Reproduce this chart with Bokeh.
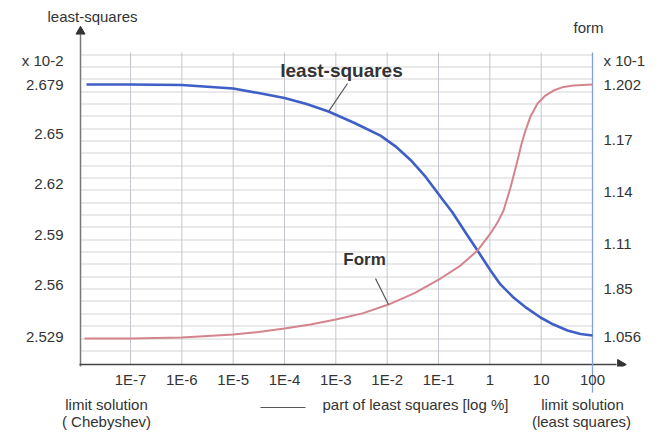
import math
from bokeh.plotting import figure
from bokeh.models import (Range1d, LinearAxis, LogAxis, FixedTicker, Label)
from bokeh.embed import file_html
from bokeh.resources import INLINE

# ---------------- data ----------------
x_ticks = [1e-7, 1e-6, 1e-5, 1e-4, 1e-3, 1e-2, 1e-1, 1.0, 10.0, 100.0]
x_tick_labels = ["1E-7", "1E-6", "1E-5", "1E-4", "1E-3", "1E-2", "1E-1", "1", "10", "100"]

left_ticks = [2.529, 2.56, 2.59, 2.62, 2.65, 2.679]
left_tick_labels = ["2.529", "2.56", "2.59", "2.62", "2.65", "2.679"]

right_ticks = [1.056, 1.084, 1.11, 1.14, 1.17, 1.202]
right_tick_labels = ["1.056", "1.85", "1.11", "1.14", "1.17", "1.202"]

# least-squares curve (left axis, x 10-2)
ls_x = [1.39e-8, 1e-7, 1e-6, 1e-5, 3.12e-5, 1e-4, 2.69e-4, 7.2e-4, 2.31e-3,
        7.41e-3, 0.01452, 0.0285, 0.0558, 0.1253, 0.1875, 0.336, 0.575, 1.03,
        1.61, 2.89, 5.18, 9.7, 17.4, 32.6, 58.3, 100]
ls_y = [2.679, 2.679, 2.6787, 2.6766, 2.6739, 2.6710, 2.6674, 2.6629, 2.6561,
        2.6486, 2.6422, 2.6341, 2.6241, 2.6098, 2.6028, 2.5909, 2.5802, 2.5683,
        2.5600, 2.5522, 2.5460, 2.5403, 2.5361, 2.5326, 2.5305, 2.5296]

# form curve (right axis, x 10-1)
form_x = [1.27e-8, 1e-7, 1e-6, 1e-5, 3.12e-5, 1e-4, 3.21e-4, 1e-3, 3.31e-3,
          0.0106, 0.0341, 0.1094, 0.2685, 0.575, 1.03, 1.41, 1.85, 2.53, 3.46,
          4.14, 4.95, 6.2, 8.49, 12.1, 17.4, 27.2, 42.7, 100]
form_y = [1.0548, 1.0548, 1.0554, 1.0572, 1.0586, 1.0606, 1.0630, 1.0658, 1.0694,
          1.0745, 1.0811, 1.0896, 1.0971, 1.1058, 1.1157, 1.1220, 1.1290, 1.1423,
          1.1580, 1.1675, 1.1753, 1.1835, 1.1910, 1.1956, 1.1985, 1.2006, 1.2014,
          1.2020]

# ---------------- layout helpers (page pixels -> data) ----------------
W, H = 661, 432
FL, FR, FT, FB = 70, 632, 20, 366          # frame edges (page px)


def dx(px):   # 1E-7 at 130 px, 100 at 592 px
    return 10 ** (-7 + (px - 130) * 9.0 / 462.0)


def dy(py):   # left axis: 2.679 at 84 px, 2.529 at 336 px
    return 2.529 + (336 - py) * 0.15 / 252.0


def ry(py):   # right axis: 1.202 at 84 px, 1.056 at 336 px
    return 1.056 + (336 - py) * 0.146 / 252.0


FONT = "Liberation Sans"
TXT = "#333333"
FS = "15px"
GRAY_AX = "#777777"
BLUE_AX = "#7f9fe0"

p = figure(width=W, height=H, x_axis_type="log",
           x_range=Range1d(dx(FL), dx(FR)), y_range=Range1d(dy(FB), dy(FT)),
           output_backend="svg", toolbar_location=None,
           min_border_left=FL, min_border_right=W - FR, min_border_top=FT,
           min_border_bottom=H - FB)
p.title.visible = False
p.outline_line_color = None
p.background_fill_color = "white"
p.border_fill_color = "white"
p.xgrid.visible = False
p.ygrid.visible = False
p.extra_y_ranges = {"form": Range1d(ry(FB), ry(FT))}


def style_axis(ax, standoff):
    ax.axis_line_color = None
    ax.major_tick_line_color = None
    ax.minor_tick_line_color = None
    ax.major_tick_out = 0
    ax.major_tick_in = 0
    ax.minor_tick_out = 0
    ax.minor_tick_in = 0
    ax.major_label_standoff = standoff
    ax.major_label_text_font = FONT
    ax.major_label_text_font_size = FS
    ax.major_label_text_color = TXT


# below panels, from the frame downwards -------------------------------
# 1) blue "limit" pointer continuing the right border under the x axis
xa = p.xaxis[0]
style_axis(xa, 0)
xa.ticker = FixedTicker(ticks=[100.0])
xa.major_label_overrides = {100.0: ""}
xa.major_tick_line_color = BLUE_AX
xa.major_tick_line_width = 1.3
xa.major_tick_out = 26
xa.major_label_text_font_size = "1px"

# 2) decade labels of the log-% axis
xl = LogAxis(ticker=FixedTicker(ticks=x_ticks),
             major_label_overrides=dict(zip(x_ticks, x_tick_labels)))
style_axis(xl, -22)
xl.axis_label = " "
xl.axis_label_text_font_size = "10px"
xl.axis_label_standoff = 3
p.add_layout(xl, "below")

# 3) arrow shaft before the axis caption (axis line limited by bounds)
shaft = LogAxis(ticker=FixedTicker(ticks=[]), bounds=(dx(260), dx(305)))
style_axis(shaft, 0)
shaft.axis_line_color = "#555555"
shaft.axis_line_width = 1
p.add_layout(shaft, "below")

# 4) + 5) caption rows
row1_pos = [dx(106), dx(415), dx(582)]
row1_txt = ["limit solution", "part of least squares [log %]", "limit solution"]
cap1 = LogAxis(ticker=FixedTicker(ticks=row1_pos),
               major_label_overrides=dict(zip(row1_pos, row1_txt)))
style_axis(cap1, -12)
p.add_layout(cap1, "below")

row2_pos = [dx(106), dx(581)]
row2_txt = ["( Chebyshev)", "(least squares)"]
cap2 = LogAxis(ticker=FixedTicker(ticks=row2_pos),
               major_label_overrides=dict(zip(row2_pos, row2_txt)))
style_axis(cap2, -3)
p.add_layout(cap2, "below")

# top caption of the left axis
top_pos = [dx(92)]
top_txt = ["least-squares"]
topax = LogAxis(ticker=FixedTicker(ticks=top_pos),
                major_label_overrides=dict(zip(top_pos, top_txt)))
style_axis(topax, -4)
p.add_layout(topax, "above")

# left axis (least-squares, x 10-2)
ya = p.yaxis[0]
style_axis(ya, 7)
lt = [dy(60)] + left_ticks
ya.ticker = FixedTicker(ticks=lt)
ya.major_label_overrides = dict(zip(lt, ["x 10-2"] + left_tick_labels))

# right axis (form, x 10-1)
rt = [ry(60)] + right_ticks
ra = LinearAxis(y_range_name="form", ticker=FixedTicker(ticks=rt),
                major_label_overrides=dict(zip(rt, ["x 10-1"] + right_tick_labels)))
style_axis(ra, -29)
p.add_layout(ra, "right")

# grid (graph-paper lines)
hy = [dy(round(53.5 + 12.35 * k) + 0.5) for k in range(25)]
p.segment(x0=[dx(80)] * len(hy), x1=[dx(592)] * len(hy), y0=hy, y1=hy,
          line_color="#d4d4d4", line_width=1)
vx = x_ticks[:-1]
p.segment(x0=vx, x1=vx, y0=[dy(52)] * len(vx), y1=[dy(364)] * len(vx),
          line_color="#c2c6d0", line_width=1)

# axis lines and arrow heads
p.segment(x0=[dx(80)], x1=[dx(80)], y0=[dy(34)], y1=[dy(368)],
          line_color=GRAY_AX, line_width=1.5)
p.scatter(x=[dx(80)], y=[dy(31)], marker="triangle", size=9,
          fill_color="#333333", line_color="#333333")
p.segment(x0=[dx(79)], x1=[dx(616)], y0=[dy(364)], y1=[dy(364)],
          line_color="#444444", line_width=1.5)
p.scatter(x=[dx(620)], y=[dy(364)], marker="triangle", size=10, angle=-math.pi / 2,
          fill_color="#333333", line_color="#333333")
p.segment(x0=[100.0], x1=[100.0], y0=[dy(52)], y1=[dy(370)],
          line_color=BLUE_AX, line_width=1.3)

# curves
p.line(ls_x, ls_y, line_color="#3f5fc6", line_width=2.6, line_join="round")
p.line(form_x, form_y, y_range_name="form", line_color="#d4848c", line_width=2,
       line_join="round")

# header of the right axis
p.add_layout(Label(x=dx(588), y=dy(27), text="form", text_align="center",
                   text_baseline="middle", text_font=FONT, text_font_size=FS,
                   text_color=TXT))

# inline callouts
p.add_layout(Label(x=dx(341), y=dy(70), text="least-squares", text_align="center",
                   text_baseline="middle", text_font=FONT, text_font_size="19px",
                   text_font_style="bold", text_color=TXT))
p.add_layout(Label(x=dx(364), y=dy(259), text="Form", text_align="center",
                   text_baseline="middle", text_font=FONT, text_font_size="17px",
                   text_font_style="bold", text_color=TXT))
p.segment(x0=[dx(347)], y0=[dy(83)], x1=[ls_x[7]], y1=[ls_y[7]],
          line_color="#555555", line_width=1.2)
p.segment(x0=[dx(375)], y0=[ry(278)], x1=[form_x[9]], y1=[form_y[9]],
          y_range_name="form", line_color="#555555", line_width=1.2)

open("out.html", "w").write(file_html(p, INLINE))
